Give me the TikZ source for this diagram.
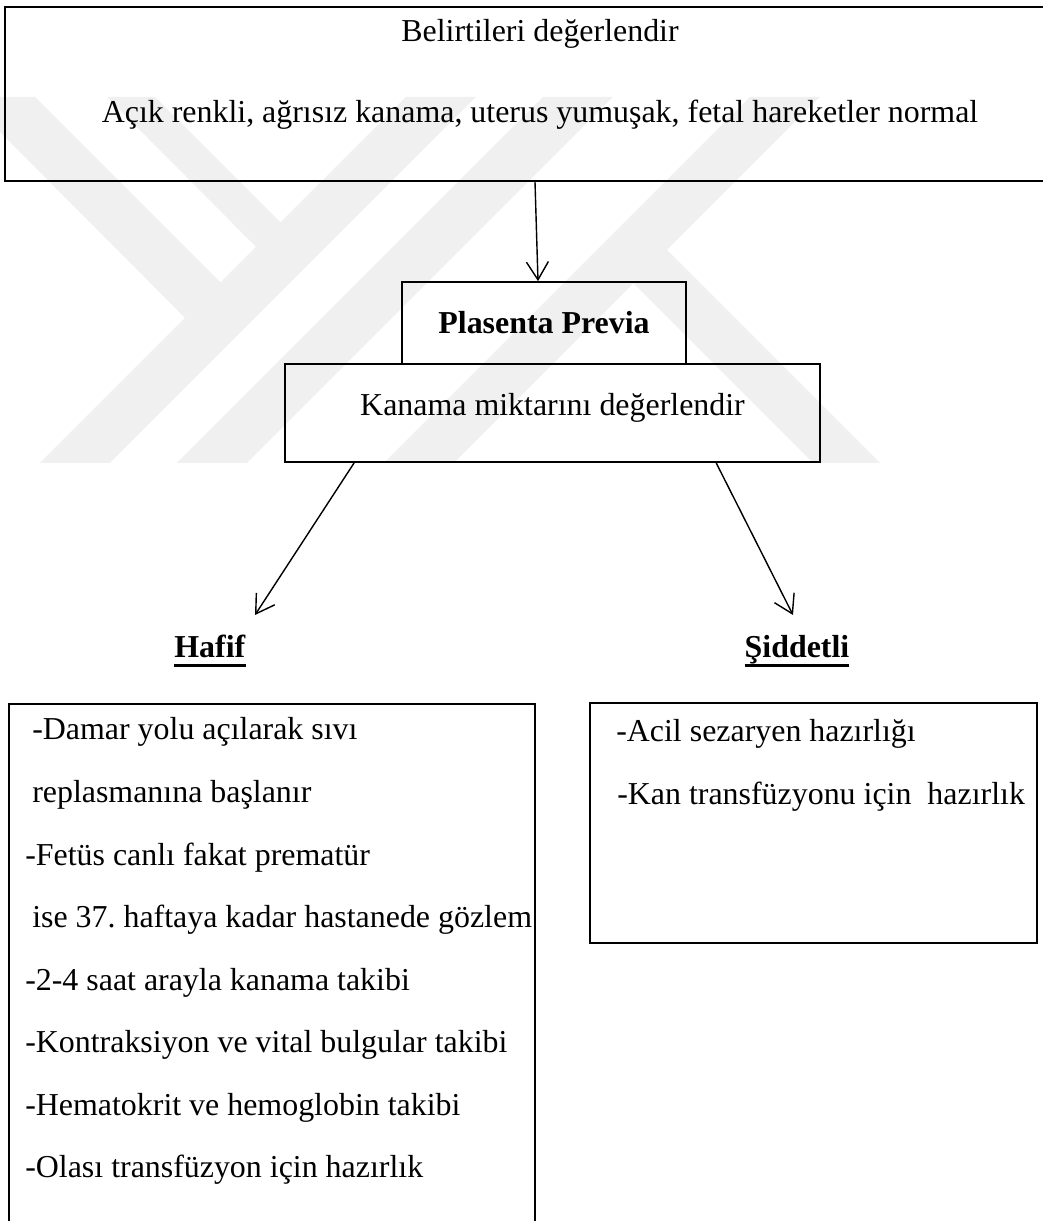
\documentclass[tikz,border=0pt]{standalone}
\usepackage{fontspec}
\setmainfont{Liberation Serif}
\usetikzlibrary{arrows.meta}
\frenchspacing
\newcommand\altcizgi[1]{\setbox0\hbox{#1}\rlap{\rule[-0.29em]{\wd0}{0.09em}}\box0}
\tikzset{
  kutu/.style={draw, line width=1.2pt, inner sep=0pt},
  ok/.style={line width=1pt, -{Straight Barb[length=4.5mm,width=5.5mm]}},
  satir/.style={anchor=base west, inner sep=0pt},
  filigran/.style={fill=black!6, draw=none}
}

\begin{document}
\begin{tikzpicture}[font=\fontsize{22.7}{27}\selectfont, line cap=round]
  \useasboundingbox (0,0) rectangle (26.075,30.525);
  \fill[filigran] (1.0,18.95) -- (2.75,18.95) -- (11.9,28.1) -- (10.15,28.1) -- cycle;
  \fill[filigran] (4.425,18.95) -- (6.175,18.95) -- (15.325,28.1) -- (13.575,28.1) -- cycle;
  \fill[filigran] (0,28.1) -- (0.875,28.1) -- (5.75,23.225) -- (4.875,22.325) -- (0,27.225) -- cycle;
  \fill[filigran] (2.675,28.1) -- (3.875,28.1) -- (7.25,24.725) -- (6.65,24.1) -- cycle;
  \fill[filigran] (18.75,28.1) -- (20.5,28.1) -- (11.35,18.95) -- (9.6,18.95) -- cycle;
  \fill[filigran] (16.25,24.7) -- (22.0,18.95) -- (20.325,18.95) -- (15.25,24.025) -- cycle;
  \node[kutu, minimum width=26.75cm, minimum height=4.35cm] (belirti) at (13.5,28.175) {};
  \node[anchor=base] (belirti1) at (13.5,29.475) {Belirtileri değerlendir};
  \node[anchor=base] (belirti2) at (13.5,27.45) {Açık renkli, ağrısız kanama, uterus yumuşak, fetal hareketler normal};
  \node[kutu, minimum width=7.1cm, minimum height=2.05cm] (plasenta) at (13.6,22.45) {\textbf{Plasenta Previa}};
  \node[kutu, minimum width=13.375cm, minimum height=2.45cm, text depth=0.45cm] (kanama) at (13.8125,20.2) {Kanama miktarını değerlendir};
  \coordinate (hafifUc) at (6.375,15.15);
  \coordinate (siddetUc) at (19.825,15.15);
  \draw[ok] ([xshift=-0.125cm]belirti.south) -- ([xshift=-0.15cm]plasenta.north);
  \draw[ok] ([xshift=1.75cm]kanama.south west) -- (hafifUc);
  \draw[ok] ([xshift=10.8cm]kanama.south west) -- (siddetUc);
  \node[anchor=base] (hafif) at (5.25,14.075) {\altcizgi{\textbf{Hafif}}};
  \node[anchor=base] (siddetli) at (19.925,14.075) {\altcizgi{\textbf{Şiddetli}}};
  \node[kutu, minimum width=13.15cm, minimum height=13.425cm] (hafifkutu) at (6.8,6.2125) {};
  \foreach \x/\y/\t [count=\i] in {0.8/12.025/{-Damar yolu açılarak sıvı},
      0.8/10.46/{replasmanına başlanır},
      0.625/8.8975/{-Fetüs canlı fakat prematür},
      0.8/7.3325/{ise 37. haftaya kadar hastanede gözlem},
      0.625/5.7675/{-2-4 saat arayla kanama takibi},
      0.625/4.2025/{-Kontraksiyon ve vital bulgular takibi},
      0.625/2.64/{-Hematokrit ve hemoglobin takibi},
      0.625/1.075/{-Olası transfüzyon için hazırlık}}
    \node[satir] (hafif\i) at (\x,\y) {\t};
  \node[kutu, minimum width=11.175cm, minimum height=6cm] (siddetkutu) at (20.3375,9.95) {};
  \node[satir] (siddet1) at (15.4,11.975) {-Acil sezaryen hazırlığı};
  \node[satir] (siddet2) at (15.425,10.4) {-Kan transfüzyonu için\ \ hazırlık};
\end{tikzpicture}
\end{document}
